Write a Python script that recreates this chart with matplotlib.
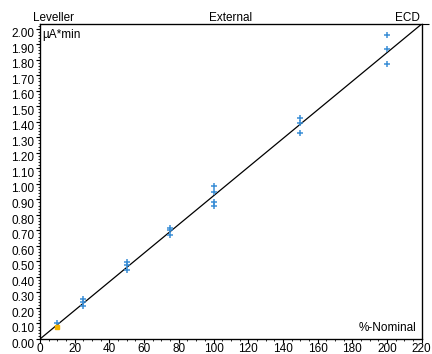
import matplotlib.pyplot as plt
import matplotlib.transforms as mtransforms
from matplotlib.ticker import MultipleLocator

plt.rcParams['font.family'] = ['Liberation Sans', 'DejaVu Sans']

# measured points: % nominal vs. charge
x_blue = [10, 25, 25, 25, 50, 50, 50, 75, 75, 75, 100, 100, 100, 100, 150, 150, 150, 200, 200, 200]
y_blue = [0.10, 0.26, 0.24, 0.215, 0.495, 0.48, 0.445, 0.715, 0.70, 0.67,
          0.985, 0.95, 0.885, 0.86, 1.425, 1.39, 1.325, 1.96, 1.87, 1.775]
x_sample = [10]
y_sample = [0.075]

# calibration line
x_line = [0, 220]
y_line = [0, 2.03]

x_max = 220
y_max = 2.03

fig = plt.figure(figsize=(4.32, 3.54), dpi=100)
ax = fig.add_axes([0.0926, 0.0424, 0.8836, 0.8898])

ax.plot(x_line, y_line, color='black', linewidth=0.9)
ax.plot(x_blue, y_blue, linestyle='none', marker='+', color='#3a8ed6',
        markersize=5, markeredgewidth=1.1)
ax.plot(x_sample, y_sample, linestyle='none', marker='s', color='#f2b200',
        markersize=3.5)

ax.set_xlim(0, x_max)
ax.set_ylim(0, y_max)
ax.xaxis.set_major_locator(MultipleLocator(20))
ax.xaxis.set_minor_locator(MultipleLocator(5))
ax.yaxis.set_major_locator(MultipleLocator(0.1))
ax.yaxis.set_minor_locator(MultipleLocator(0.02))
ax.yaxis.set_major_formatter(lambda v, p: f"{v:.2f}")

ax.tick_params(axis='both', which='major', length=3, width=0.8, labelsize=8.5, pad=1)
ax.tick_params(axis='x', which='major', pad=0)
ax.tick_params(axis='both', which='minor', length=1.5, width=0.6)
for s in ax.spines.values():
    s.set_linewidth(0.9)

# y labels sit a little below their ticks in the original
shift = mtransforms.ScaledTranslation(0, -3 / 72, fig.dpi_scale_trans)
for lbl in ax.get_yticklabels():
    lbl.set_transform(lbl.get_transform() + shift)

ax.text(0.006, 0.985, "µA*min", transform=ax.transAxes, ha='left', va='top', fontsize=8.5)
ax.text(0.985, 0.015, "%-Nominal", transform=ax.transAxes, ha='right', va='bottom', fontsize=8.5)
ax.text(-0.018, 1.0, "Leveller", transform=ax.transAxes, ha='left', va='bottom', fontsize=8.5)
ax.text(0.5, 1.0, "External", transform=ax.transAxes, ha='center', va='bottom', fontsize=8.5)
ax.text(0.995, 1.0, "ECD", transform=ax.transAxes, ha='right', va='bottom', fontsize=8.5)

ax2 = ax.twinx()
ax2.set_ylim(0, y_max)
ax2.set_yticks([y_max])
ax2.set_yticklabels([])
ax2.tick_params(axis='y', length=5, width=0.8)

fig.savefig("out.png", dpi=100)
